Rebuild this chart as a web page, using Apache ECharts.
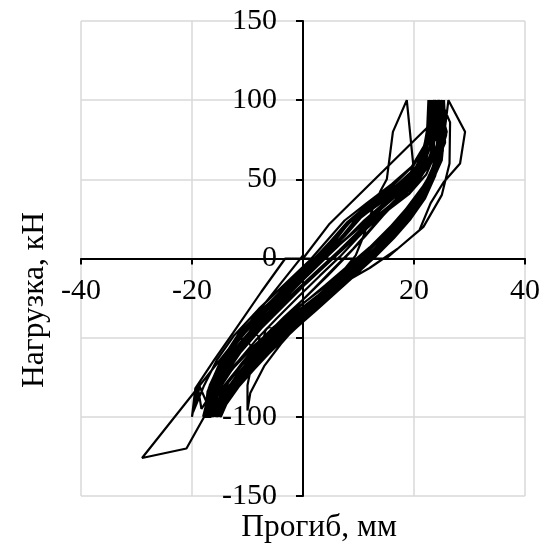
<!DOCTYPE html>
<html>
<head>
<meta charset="utf-8">
<script src="https://cdn.jsdelivr.net/npm/echarts@6/dist/echarts.min.js"></script>
<style>
html,body{margin:0;padding:0;background:#fff;}
#chart{width:559px;height:553px;}
</style>
</head>
<body>
<div id="chart"></div>
<script>
// Axis settings
const xTicks = [-40, -20, 0, 20, 40];
const yTicks = [-150, -100, -50, 0, 50, 100, 150];
const xTitle = 'Прогиб, мм';
const yTitle = 'Нагрузка, кН';

// Deflection (mm) / load (kN) history, split into cycles
const loadStart = [[0,0],[4.8,22],[22.5,83],[24,100]];
const cycle1 = [[23.5,86],[22.5,72],[20.5,58],[17,46],[12.5,34],[8.5,23],[5.5,11],[2,-2],[-2.5,-16],[-7,-31],[-11.5,-47],[-14.5,-63],[-16.8,-80],[-17.6,-100],
  [-16.2,-91],[-14.5,-83],[-12,-71],[-8.5,-58],[-5,-46],[-0.5,-33],[4,-21],[8,-9],[12,3],[15.5,16],[19,30],[22,44],[24,58],[24.8,76],[24.6,100]];
const cycle2 = [[24,84],[23,70],[21,57],[18,47],[13.5,35],[9.5,24],[6.5,12],[3,0],[-1.5,-14],[-6,-29],[-10.5,-45],[-14,-61],[-16.2,-78],[-16.8,-100],
  [-15.5,-92],[-13.6,-82],[-11,-70],[-7.8,-57],[-4.2,-45],[0,-32],[4.8,-20],[8.8,-8],[12.8,4],[16.2,17],[19.6,31],[22.5,45],[24.3,60],[25.8,78],[24.9,100]];
const cycle3 = [[24.2,82],[23.3,68],[21.5,55],[18.5,46],[14,35],[10,25],[7,13],[3.5,1],[-1,-13],[-5.5,-28],[-10,-44],[-13.5,-60],[-16,-76],[-17.2,-100],
  [-15.8,-93],[-13.5,-78],[-10.5,-65],[-7,-52],[-2.5,-40],[2,-27],[6,-13],[9.5,2],[11,15],[12.4,30],[14,43],[15.1,50],[16.2,80],[18.7,100]];
const cycle4 = [[19.9,58],[18.2,46],[13.2,34],[9,22],[6,10],[2.5,-4],[-2,-18],[-6.5,-33],[-11,-49],[-14.2,-64],[-16.5,-79],[-18,-100],
  [-16.6,-90],[-15,-80],[-12.5,-69],[-9,-56],[-5.5,-44],[-1,-31],[3.5,-19],[7.5,-7],[11.5,5],[15,17],[18.5,31],[21.5,45],[23.8,58],[25,74],[24.2,100]];
const cycle5 = [[23.8,84],[23,71],[21.8,60],[19,49],[14.5,37],[10.5,26],[7.5,14],[4,2],[-0.5,-12],[-5,-27],[-9.5,-43],[-13,-58],[-15.8,-74],[-17,-88],[-16.5,-100],
  [-15,-92],[-13,-80],[-10.5,-68],[-7,-55],[-3.5,-43],[1,-30],[5.5,-17],[9.5,-5],[13.5,7],[17,20],[20.5,34],[23.2,48],[25,62],[25.5,80],[26.2,100]];
const cycle6 = [[29.2,80],[28.3,60],[25.3,48],[23,35],[21,18],[15,0],[-3.2,0],[-7.5,-21],[-12.6,-47],[-16,-64],[-19.4,-82],[-20,-100],
  [-19,-80],[-18.3,-95],[-17,-88],[-15,-78],[-12,-66],[-8.5,-54],[-5,-43],[-0.5,-30],[4,-17],[8,-5],[12,7],[16,21],[19.5,35],[22.5,50],[24.5,65],[25,82],[23.5,100]];
const cycle7 = [[23,86],[22,72],[20,59],[16.5,47],[12,35],[8,23],[5,11],[1.5,-2],[-3,-17],[-7.5,-33],[-12,-50],[-15,-66],[-17,-82],[-15.5,-100],
  [-14,-90],[-12,-79],[-9.5,-67],[-6,-54],[-2.5,-42],[2,-29],[6.5,-16],[10.5,-3],[14.5,10],[18,24],[21,38],[23.5,52],[25.2,68],[24.8,100]];
const cycle8 = [[26.5,86],[26.4,60],[25,40],[21.7,20],[17,6],[12,-6],[6,-18],[1,-28],[-3,-38],[-6.8,-50],[-9.2,-66],[-10,-80],[-10,-96],
  [-9.5,-85],[-7,-68],[-4,-54],[-1,-42],[3,-28],[7,-14],[11,-1],[14.5,12],[18,26],[21,40],[23.5,54],[24.8,70],[24,100]];
const cycle9 = [[23.2,84],[22.2,70],[20.2,57],[16.8,46],[12.2,34],[8.2,22],[5.5,10],[2,-3],[-2.5,-18],[-7,-34],[-11.8,-50],[-14.8,-66],[-17.2,-84],[-17.7,-100],
  [-16.8,-93],[-15.5,-86],[-13,-75],[-9.8,-61],[-6.2,-48],[-2,-36],[2.8,-23],[6.8,-11],[10.8,1],[14.5,14],[18.2,28],[21.5,42],[23.8,56],[24.6,72],[23.2,100]];
const cycle10 = [[22.8,85],[21.8,71],[19.6,58],[16,47],[11.5,35],[7.5,24],[4.5,12],[1,-2],[-3.5,-17],[-8,-32],[-12.5,-49],[-15.5,-64],[-17.8,-80],[-19.8,-97],[-18.6,-81],[-16.2,-100],
  [-15,-92],[-13.2,-82],[-10.8,-70],[-7.3,-56],[-3.8,-44],[0.5,-31],[5.2,-18],[9.2,-6],[13.2,6],[16.8,19],[20.2,33],[22.8,47],[24.5,62],[25.9,80],[24.3,100]];
const cycle11 = [[23.9,85],[23.2,72],[21.6,60],[18.3,49],[13.8,37],[9.8,26],[7,14],[3.5,1],[-1,-13],[-5.5,-28],[-10,-44],[-13.5,-60],[-16,-75],[-17.4,-90],[-17,-100],
  [-15.8,-94],[-14.2,-85],[-11.8,-73],[-8.5,-59],[-5,-47],[-0.8,-34],[4,-22],[8,-10],[12,2],[15.8,15],[19.3,29],[22.3,43],[24.3,57],[25.3,74],[25,100]];
const cycle12 = [[24.6,82],[23.8,66],[22.2,53],[19.2,41],[15.5,31],[11.5,19],[7.5,7],[3.5,-6],[-0.5,-19],[-4.5,-33],[-8.5,-47],[-12,-62],[-15,-79],[-16.3,-100],
  [-15.2,-91],[-13.2,-81],[-10.6,-71],[-7.6,-60],[-4.2,-48],[-0.6,-37],[3.2,-25],[7.2,-13],[11.2,-1],[14.8,11],[17.8,22],[20.8,35],[23,48],[24.4,64],[24.4,100]];
const cycle13 = [[24,83],[23.4,68],[22,56],[19.8,45],[16.5,34],[12.5,22],[8.5,10],[4.5,-3],[0.5,-16],[-3.5,-30],[-7.5,-44],[-11.2,-59],[-14.5,-76],[-16,-90],[-15.8,-100],
  [-14.6,-90],[-12.6,-80],[-9.8,-69],[-6.6,-57],[-3,-46],[0.5,-35],[4.5,-23],[8.5,-11],[12.5,1],[15.8,12],[18.8,24],[21.5,37],[23.5,51],[24.6,67],[22.6,100]];
const cycle14 = [[22.4,84],[22,70],[21,57],[18.6,46],[15.2,35],[11.2,23],[7.2,11],[3.2,-2],[-0.8,-15],[-4.8,-29],[-8.8,-43],[-12.5,-58],[-15.5,-74],[-17,-90],[-16.9,-100],
  [-15.9,-92],[-14,-83],[-11.5,-73],[-8.2,-61],[-4.8,-49],[-1.2,-38],[2.6,-26],[6.6,-14],[10.6,-2],[14.2,10],[17.3,21],[20.2,33],[22.6,46],[24.2,61],[24.9,78],[24.7,100]];
const cycle15 = [[23,88],[22.6,74],[21.5,62],[19.5,51],[16.5,40],[13.5,29],[10,17],[6.5,5],[2.5,-8],[-1.5,-21],[-5.5,-35],[-9.5,-50],[-13,-66],[-15.8,-82],[-15,-100],
  [-14.2,-92],[-12.2,-82],[-9.5,-71],[-6.5,-60],[-3.2,-49],[0.2,-38],[3.8,-27],[7.6,-15],[11.4,-3],[14.8,10],[17.6,21],[20.2,33],[22.4,46],[23.8,62],[23,100]];
const cycle16 = [[22.5,84],[21.8,70],[20.4,58],[17.8,46],[14.6,35],[11,24],[7.6,12],[4,0],[0.2,-13],[-3.8,-27],[-7.8,-41],[-11.5,-56],[-14.8,-72],[-16.8,-86],[-15.4,-100],
  [-14.8,-94],[-13.2,-86],[-11,-77],[-8.2,-65],[-5,-53],[-1.8,-42],[1.6,-31],[5.4,-19],[9.4,-7],[13.2,5],[16.6,17],[19.6,29],[22,42],[23.6,56],[24.2,72],[25.4,100]];
const cycle17 = [[25.6,86],[24.8,72],[23,60],[20.6,49],[17.2,38],[13,26],[9,13],[5,0],[1,-13],[-3,-26],[-7,-40],[-10.8,-55],[-14,-70],[-16.5,-85],[-17.3,-100],
  [-16.4,-95],[-14.6,-87],[-12.4,-78],[-9.6,-67],[-6.4,-55],[-3,-43],[0.6,-32],[4.4,-20],[8.4,-8],[12.2,4],[15.4,15],[18.4,27],[21.2,40],[23.2,54],[24.6,70],[23.8,100]];
const cycle18 = [[23.6,84],[22.8,69],[21.2,56],[18.6,45],[15,34],[11,22],[7,10],[3,-3],[-1,-16],[-5,-30],[-9,-45],[-12.8,-61],[-15.6,-77],[-16.6,-92],[-14.8,-100],
  [-13.8,-92],[-11.6,-81],[-8.8,-70],[-5.6,-58],[-2.2,-47],[1.4,-35],[5.2,-23],[9.2,-11],[13,1],[16.4,13],[19.4,25],[22,38],[23.8,52],[25,68],[25.6,84],[24.8,100]];
const cycle19 = [[24,86],[23.5,72],[22.4,60],[20.4,49],[17.4,38],[14.4,27],[11.2,14],[8,2],[4.4,-11],[0.6,-24],[-3.4,-37],[-7.4,-51],[-11,-66],[-14.4,-82],[-16,-100],
  [-15,-93],[-13,-84],[-10.4,-73],[-7.4,-62],[-4,-51],[-0.6,-40],[3,-29],[6.8,-17],[10.6,-4],[14,9],[17,21],[19.8,33],[22,45],[23.6,60],[24.4,76],[22.8,100]];
const cycle20 = [[22.6,85],[22.4,71],[21.7,59],[19.6,48],[16.6,37],[13.2,25],[9.8,13],[6.6,1],[3,-11],[-0.8,-24],[-4.8,-38],[-8.6,-52],[-12.2,-67],[-15.2,-83],[-16.2,-100],
  [-15.4,-94],[-13.6,-85],[-11.2,-75],[-8.2,-63],[-4.8,-52],[-1.4,-41],[2.2,-30],[6,-18],[9.8,-6],[13.4,7],[16.4,19],[19.2,31],[21.6,44],[23.4,58],[24.4,74],[23.6,100]];
const cycle21 = [[23.4,86],[22.9,72],[22,60],[20.2,50],[17.8,40],[15,30],[12,18],[9,6],[5.6,-6],[2,-19],[-2,-33],[-6,-47],[-9.8,-62],[-13.4,-78],[-15.6,-92],[-15.6,-100],
  [-14.6,-94],[-12.8,-86],[-10.4,-76],[-7.6,-65],[-4.4,-54],[-1,-43],[2.6,-32],[6.4,-20],[10.2,-8],[13.8,5],[16.8,17],[19.6,30],[22,43],[23.6,57],[25.6,73],[25.3,100]];
const cycle22 = [[24.8,85],[24.2,72],[22.8,60],[20.8,49],[17.6,38],[13.6,26],[9.6,14],[5.6,1],[1.6,-12],[-2.4,-25],[-6.4,-39],[-10.4,-54],[-13.8,-70],[-16.2,-86],[-16.6,-100],
  [-17.8,-100],[-21,-120],[-29,-126],[0,2]];

const history = [].concat(loadStart, cycle1, cycle2, cycle3, cycle4, cycle5, cycle6,
  cycle7, cycle8, cycle9, cycle10, cycle11, cycle12, cycle13, cycle14, cycle15,
  cycle16, cycle17, cycle18, cycle19, cycle20, cycle21, cycle22);

const FONT = 'Liberation Serif';
const GRID = {left: 81, right: 34, top: 21, bottom: 57};
const W = 559, H = 553;
const plotW = W - GRID.left - GRID.right;
const plotH = H - GRID.top - GRID.bottom;
// shift axes so they cross at zero (through the data range)
const yAxisOffset = -plotW * (0 - xTicks[0]) / (xTicks[xTicks.length - 1] - xTicks[0]);
const xAxisOffset = -plotH * (0 - yTicks[0]) / (yTicks[yTicks.length - 1] - yTicks[0]);

const chart = echarts.init(document.getElementById('chart'), null, {renderer: 'canvas'});
chart.setOption({
  animation: false,
  backgroundColor: '#ffffff',
  grid: Object.assign({containLabel: false}, GRID),
  xAxis: {
    type: 'value',
    position: 'bottom',
    offset: xAxisOffset,
    min: xTicks[0], max: xTicks[xTicks.length - 1], interval: 20,
    axisLine: {onZero: false, lineStyle: {color: '#000', width: 2}},
    axisTick: {show: true, length: 6, lineStyle: {color: '#000', width: 2}},
    axisLabel: {
      margin: 18, color: '#000', fontFamily: FONT, fontSize: 30,
      formatter: v => (v === 0 ? '' : String(v))
    },
    splitLine: {show: true, lineStyle: {color: '#d9d9d9', width: 1.5}}
  },
  yAxis: {
    type: 'value',
    position: 'left',
    offset: yAxisOffset,
    min: yTicks[0], max: yTicks[yTicks.length - 1], interval: 50,
    axisLine: {onZero: false, lineStyle: {color: '#000', width: 2}},
    axisTick: {show: true, length: 7, lineStyle: {color: '#000', width: 2}},
    axisLabel: {margin: 26, color: '#000', fontFamily: FONT, fontSize: 30},
    splitLine: {show: true, lineStyle: {color: '#d9d9d9', width: 1.5}}
  },
  graphic: [
    {type: 'text', x: 319, y: 528,
      style: {text: xTitle, font: '31.5px "Liberation Serif"', fill: '#000', align: 'center', verticalAlign: 'middle'}},
    {type: 'text', rotation: Math.PI / 2, x: 35, y: 300,
      style: {text: yTitle, font: '31.5px "Liberation Serif"', fill: '#000', align: 'center', verticalAlign: 'middle'}}
  ],
  series: [{
    type: 'line',
    data: history,
    showSymbol: false,
    symbol: 'none',
    clip: false,
    lineStyle: {color: '#000', width: 2.2},
    silent: true
  }]
});
</script>
</body>
</html>
